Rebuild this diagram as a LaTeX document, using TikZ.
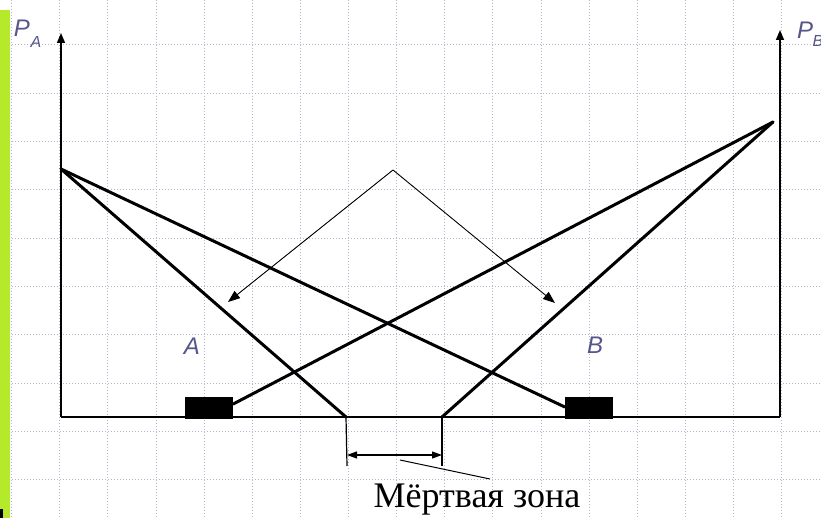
\documentclass[tikz,border=0pt]{standalone}
\usepackage{fontspec}
\setmainfont{Liberation Serif}
\newfontfamily\lsans{Liberation Sans}
\usetikzlibrary{arrows.meta}
\definecolor{limebar}{HTML}{B5EA2A}
\definecolor{gridc}{HTML}{B4B4CA}
\definecolor{lblc}{HTML}{56568A}
\begin{document}
\begin{tikzpicture}[x=1pt,y=-1pt,
 gridline/.style={gridc, line width=1pt, dash pattern=on 1pt off 2pt},
 axis/.style={line width=1.6pt, -{Triangle[length=10pt,width=8pt]}},
 beam/.style={line width=3pt, line cap=round, line join=round},
 thinarrow/.style={line width=0.9pt, -{Triangle[length=12pt,width=9pt]}},
 block/.style={fill=black, draw=none, minimum width=48pt, minimum height=22pt, inner sep=0pt},
 lbl/.style={text=lblc, font=\lsans\itshape\fontsize{24}{26}\selectfont, inner sep=0pt},
 sub/.style={text=lblc, font=\lsans\itshape\fontsize{16}{18}\selectfont, inner sep=0pt},
 dz/.style={line width=1.2pt},
]
\clip (0,0) rectangle (821,518);
\fill[white] (0,0) rectangle (821,518);
\foreach \i in {0,...,16} \draw[gridline] ({11.7+48.12*\i},0) -- ({11.7+48.12*\i},518);
\foreach \j in {-1,...,9} \draw[gridline] (0,{45+48.33*\j}) -- (821,{45+48.33*\j});
\fill[limebar] (0,10) rectangle (10,518);
\fill[black] (0,509) rectangle (3,518);

% axes
\coordinate (O) at (61,417);
\coordinate (YA) at (61,33);
\coordinate (RB) at (780,417);
\coordinate (YB) at (780,30);
\draw[line width=1.4pt] (O) -- (RB);
\draw[axis] (O) -- (YA);
\draw[axis] (RB) -- (YB);

% axis labels
\node[lbl] (pa) at (22,28) {P};
\node[sub] (pasub) at (36,42) {A};
\node[lbl] (pb) at (805,30) {P};
\node[sub] (pbsub) at (818,41) {B};

% blocks
\node[block] (blkA) at (209,408) {};
\node[block] (blkB) at (589,408) {};

% peaks and dead zone points
\coordinate (PL) at (61,169);
\coordinate (PR) at (773,122);
\coordinate (D1) at (346,417);
\coordinate (D2) at (442,417);

\draw[beam] (PL) -- (D1);
\draw[beam] (PL) -- ([yshift=1pt]blkB.west);
\draw[beam] (PR) -- (D2);
\draw[beam] (PR) -- ([yshift=4pt]blkA.east);

% dead zone
\coordinate (E1) at (347,466);
\coordinate (E2) at (442,466);
\coordinate (H1) at (347,455);
\coordinate (H2) at (442,455);
\draw[dz] (D1) -- (E1);
\draw[dz] (D2) -- (E2);
\draw[dz, {Triangle[length=10pt,width=7pt]}-{Triangle[length=10pt,width=7pt]}] (H1) -- (H2);
\coordinate (L1) at (400,460);
\coordinate (L2) at (490,479);
\draw[line width=1pt] (L1) -- (L2);
\node[font=\fontsize{36}{40}\selectfont, inner sep=0pt] (zone) at (477,500) {Мёртвая зона};

% thin arrows
\coordinate (T) at (393,170);
\coordinate (TA) at (228,302);
\coordinate (TB) at (555,303);
\draw[thinarrow] (T) -- (TA);
\draw[thinarrow] (T) -- (TB);

% labels
\node[lbl] (la) at (192,346) {A};
\node[lbl] (lb) at (595,345) {B};
\end{tikzpicture}
\end{document}
